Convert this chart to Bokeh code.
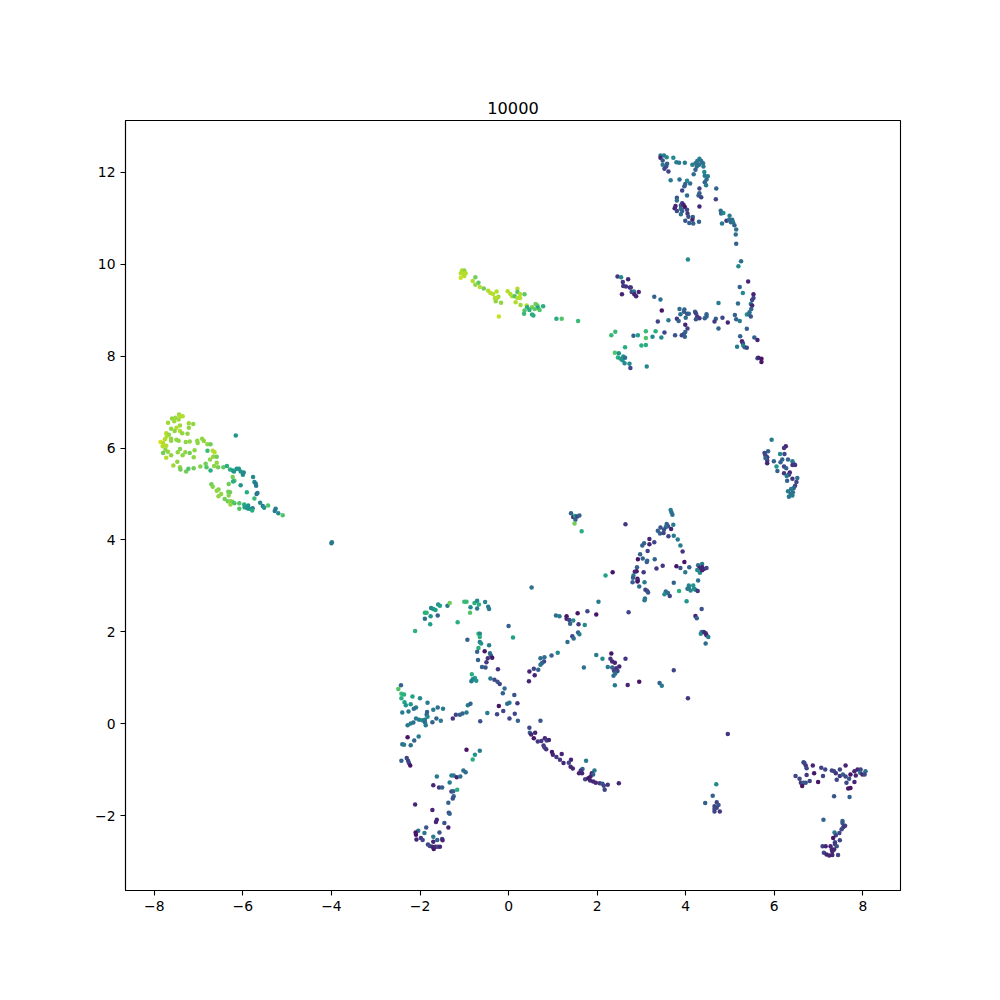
from bokeh.plotting import figure
from bokeh.models import ColumnDataSource, LinearColorMapper, FixedTicker, Range1d
from bokeh.palettes import Viridis256
from bokeh.embed import file_html
from bokeh.resources import INLINE

# (x, y, colour value 0..1)
top_arch = [
(3.43,12.36,.4),(3.51,12.36,.4),(3.43,12.31,.1),(3.57,12.32,.45),(3.72,12.31,.45),(3.48,12.25,.25),(3.58,12.18,.3),(3.48,12.16,.4),
(3.56,12.12,.25),(3.52,12.07,.2),(3.61,12.01,.2),(3.79,12.21,.4),(3.85,12.2,.4),(3.98,12.2,.4),(4.15,12.16,.42),(4.22,12.19,.4),
(4.26,12.24,.38),(4.31,12.29,.42),(4.35,12.24,.35),(4.30,12.16,.35),(4.25,12.12,.35),(4.39,12.19,.35),(4.4,12.12,.4),(4.22,12.05,.3),
(4.18,11.95,.35),(4.42,12.0,.45),(4.43,11.92,.4),(4.5,11.91,.4),(4.47,11.84,.35),(4.43,11.78,.3),(4.46,11.71,.4),(4.69,11.64,.3),
(3.66,11.82,.4),(3.86,11.84,.35),(4.03,11.81,.45),(3.99,11.74,.3),(4.1,11.75,.35),(3.97,11.69,.3),(3.92,11.6,.2),(4.31,11.64,.2),
(4.31,11.54,.3),(4.29,11.49,.3),(4.35,11.45,.2),(4.03,11.49,.35),(3.8,11.44,.25),(3.8,11.38,.35),(4.68,11.41,.2),(3.92,11.32,.15),
(3.89,11.27,.25),(3.95,11.29,.1),(3.77,11.26,.1),(3.75,11.21,.1),(3.98,11.24,.05),(3.89,11.2,.35),(4.31,11.25,.1),(3.8,11.15,.2),
(3.92,11.15,.3),(4.03,11.18,.2),(3.89,11.08,.35),(4.04,11.1,.15),(4.06,11.03,.25),(4.16,11.02,.3),(3.99,10.94,.25),(4.15,10.96,.1),
(4.08,10.89,.3),(4.17,10.88,.3),(4.3,10.92,.3),(4.79,11.16,.35),(4.8,11.1,.3),(4.85,11.11,.45),(4.99,11.05,.4),(4.92,10.94,.15),
(4.98,10.96,.35),(5.05,10.96,.35),(5.07,10.91,.4),(5.02,10.91,.35),(4.82,10.88,.4),(5.1,10.84,.3),(5.14,10.75,.35),(5.13,10.64,.35),
(5.14,10.44,.3),(5.25,10.06,.35),(5.19,9.95,.45),(4.05,10.1,.45),
]
middle_band = [
(2.46,9.73,.15),(2.54,9.71,.45),(2.7,9.67,.1),(2.58,9.61,.15),(2.59,9.52,.15),(2.65,9.51,.15),(2.74,9.49,.1),(2.76,9.49,.15),
(2.78,9.39,.2),(2.83,9.4,.35),(2.94,9.39,.1),(2.56,9.34,.1),(2.84,9.34,.1),(2.88,9.3,.1),(3.29,9.29,.3),(3.43,9.23,.35),
(5.41,9.62,.1),(5.22,9.5,.3),(5.29,9.37,.45),(5.53,9.34,.1),(5.53,9.26,.2),(5.5,9.22,.2),(5.47,9.13,.4),(5.5,9.1,.1),
(5.48,9.02,.3),(5.44,8.95,.35),(5.38,8.9,.5),(5.43,8.91,.35),(5.47,8.86,.25),(4.74,9.15,.4),(5.18,9.14,.35),(3.46,8.99,.05),
(3.86,9.02,.35),(3.97,9.01,.3),(3.96,8.96,.3),(3.88,8.91,.35),(4.03,8.92,.25),(4.07,8.92,.3),(4.21,8.96,.3),(4.23,8.93,.2),
(4.26,8.86,.15),(4.31,8.82,.15),(4.23,8.8,.25),(3.8,8.81,.15),(3.84,8.76,.3),(4.0,8.83,.35),(3.61,8.78,.4),(3.37,8.75,.2),
(4.47,8.91,.3),(4.47,8.86,.3),(4.43,8.82,.3),(4.68,8.81,.3),(4.65,8.75,.15),(4.83,8.83,.2),(4.95,8.73,.1),(5.11,8.89,.3),
(5.14,8.8,.3),(5.22,8.76,.4),(4.74,8.6,.3),(5.38,8.59,.3),(3.99,8.68,.1),(4.04,8.6,.2),(3.99,8.52,.3),(3.96,8.48,.3),
(3.91,8.45,.2),(3.98,8.42,.3),(3.76,8.45,.25),(3.52,8.51,.2),(3.32,8.54,.6),(3.1,8.54,.65),(2.92,8.45,.55),(2.82,8.44,.3),
(2.41,8.53,.65),(2.32,8.45,.65),(3.1,8.39,.7),(3.25,8.42,.45),(3.45,8.4,.45),(3.1,8.24,.6),(3.0,8.23,.6),(2.63,8.19,.6),
(2.4,8.07,.7),(2.49,8.06,.5),(2.47,7.97,.6),(2.53,7.94,.55),(2.57,7.91,.5),(2.59,7.99,.5),(2.63,7.96,.35),(2.62,7.84,.45),
(2.73,7.83,.45),(2.75,7.74,.2),(3.12,7.77,.45),(5.23,8.43,.3),(5.55,8.4,.3),(5.62,8.35,.1),(5.27,8.32,.1),(5.29,8.28,.15),
(5.16,8.2,.4),(5.3,8.23,.45),(5.33,8.19,.35),(5.38,8.18,.2),(5.62,7.95,.35),(5.64,7.96,.1),(5.71,7.94,.05),(5.71,7.87,.05),
]
upper_left_arc = [
(-2.11,2.02,.62),(-1.89,2.29,.35),(-1.89,2.42,.6),(-1.85,2.42,.62),(-1.76,2.34,.5),(-1.77,2.17,.55),(-1.75,2.52,.45),(-1.7,2.5,.5),
(-1.65,2.48,.55),(-1.6,2.36,.3),(-1.59,2.6,.5),(-1.55,2.57,.55),(-1.38,2.57,.4),(-1.33,2.63,.75),(-1.15,2.21,.6),(-1.0,2.66,.65),
(-0.95,2.66,.65),(-0.86,2.54,.45),(-0.87,2.42,.7),(-0.77,2.63,.6),(-0.71,2.68,.45),(-0.67,2.6,.6),(-0.71,2.51,.4),(-0.53,2.65,.45),
(-0.46,2.55,.4),(-0.44,2.5,.4),(0,2.13,.3),(0.1,1.88,.55),(-0.68,1.96,.65),(-0.65,1.96,.45),(-0.65,1.89,.6),(-0.93,1.83,.3),
(-0.65,1.78,.4),(-0.62,1.75,.5),(-0.44,1.71,.4),(-0.68,1.65,.6),(-0.71,1.57,.3),(-0.54,1.58,.05),(-0.42,1.54,.35),(-0.4,1.49,.3),
(-0.47,1.43,.15),(-0.37,1.44,.05),(-0.69,1.39,.3),(-0.5,1.34,.15),(-0.6,1.24,.3),(-0.52,1.23,.25),(-0.24,1.19,.15),(-0.83,1.08,.6),
(-0.76,1.0,.55),(-0.81,0.97,.45),(-0.84,0.93,.4),(-0.73,0.94,.5),(-0.41,0.99,.4),(-0.32,0.96,.2),(-0.25,0.92,.25),(-0.2,0.87,.2),
(-0.09,0.77,.35),(-0.13,0.67,.3),(0.13,0.63,.25),(0.2,0.45,.15),(0.02,0.46,.4),(-0.03,0.44,.35),(-0.22,0.39,.05),(-0.12,0.28,.2),
(-0.26,0.21,.2),(0.14,0.22,.2),(0.02,0.12,.2),(0.21,0.07,.3),(-0.48,0.24,.4),(-0.64,0.06,.25),
]
left_fan = [
(-2.43,0.84,.3),(-2.49,0.76,.7),(-2.42,0.66,.65),(-2.36,0.64,.6),(-2.42,0.56,.6),(-2.17,0.6,.55),(-2.0,0.56,.45),(-2.35,0.47,.55),
(-2.32,0.41,.5),(-2.21,0.43,.5),(-1.83,0.46,.4),(-2.09,0.36,.4),(-2.14,0.33,.35),(-2.4,0.25,.4),(-2.26,0.27,.4),(-1.84,0.26,.3),
(-1.85,0.2,.3),(-1.7,0.31,.4),(-1.6,0.36,.35),(-1.48,0.33,.4),(-2.09,0.12,.4),(-2.02,0.09,.4),(-1.95,0.08,.45),(-1.89,0.09,.4),
(-1.83,0.16,.45),(-1.63,0.12,.3),(-1.53,0.07,.4),(-1.72,0.04,.3),(-1.89,0.04,.35),(-1.87,-0.03,.4),(-2.15,0.03,.35),(-2.21,0.01,.4),
(-2.28,-0.03,.4),(-1.26,0.12,.15),(-1.19,0.2,.2),(-1.1,0.2,.3),(-1.04,0.23,.3),(-0.95,0.25,.4),(-0.92,0.41,.4),(-0.86,0.44,.3),
(-2.28,-0.29,.05),(-2.03,-0.27,.4),(-2.13,-0.36,.3),(-2.4,-0.44,.35),(-2.36,-0.45,.4),(-2.21,-0.46,.35),(-2.42,-0.8,.3),(-2.3,-0.74,.2),
(-2.27,-0.8,.2),(-2.25,-0.85,.2),(-2.22,-0.9,.05),
]
bottom_arc = [
(-0.95,-0.56,.05),(-0.65,-0.58,.4),(-0.76,-0.67,.5),(-0.81,-0.77,.6),(-1.62,-1.14,.4),(-1.29,-1.12,.4),(-1.24,-1.12,.4),(-1.17,-1.16,.1),
(-1.09,-1.14,.35),(-1.02,-1.01,.35),(-0.97,-1.05,.35),(-1.7,-1.33,.1),(-1.57,-1.38,.15),(-1.5,-1.38,.3),(-1.33,-1.27,.4),(-1.16,-1.43,.6),
(-1.29,-1.47,.2),(-1.25,-1.46,.3),(-1.24,-1.57,.3),(-1.26,-1.62,.25),(-1.36,-1.71,.3),(-2.11,-1.75,.1),(-1.72,-1.87,.1),(-1.35,-1.93,.2),
(-1.33,-1.95,.3),(-1.62,-2.08,.1),(-1.64,-2.13,.1),(-1.45,-2.15,.25),(-1.36,-2.25,.1),(-1.86,-2.25,.25),(-2.04,-2.32,.35),(-2.1,-2.36,.05),
(-2.09,-2.41,.05),(-1.9,-2.37,.4),(-1.56,-2.36,.25),(-1.7,-2.45,.4),(-2.08,-2.51,.1),(-1.98,-2.48,.15),(-1.94,-2.52,.2),(-1.61,-2.52,.3),
(-1.5,-2.5,.2),(-1.49,-2.53,.1),(-1.7,-2.56,.1),(-1.82,-2.62,.2),(-1.78,-2.65,.25),(-1.72,-2.67,.1),(-1.69,-2.72,.05),(-1.65,-2.67,.1),
(-1.6,-2.67,.2),(-1.55,-2.67,.1),
]
descending_arc = [
(0.47,-0.08,.2),(0.72,0.07,.25),(0.48,-0.19,.3),(0.51,-0.23,.1),(0.6,-0.19,.1),(0.57,-0.31,.05),(0.66,-0.38,.15),(0.74,-0.37,.15),
(0.82,-0.31,.1),(0.86,-0.36,.2),(0.91,-0.35,.1),(0.79,-0.47,.15),(0.81,-0.51,.2),(0.85,-0.55,.15),(0.98,-0.61,.05),(1.0,-0.67,.1),
(1.08,-0.72,.15),(1.2,-0.65,.1),(1.16,-0.78,.15),(1.24,-0.85,.1),(1.41,-0.78,.1),(1.36,-0.84,.2),(1.75,-0.8,.4),(1.4,-0.93,.1),
(1.45,-0.97,.1),(1.67,-0.98,.3),(1.63,-1.01,.15),(1.59,-1.07,.1),(1.66,-1.07,.1),(1.94,-1.01,.4),(1.88,-1.07,.1),(1.91,-1.1,.3),
(1.85,-1.14,.1),(1.73,-1.2,.2),(1.8,-1.18,.05),(1.84,-1.23,.1),(1.91,-1.25,.1),(1.97,-1.28,.1),(2.06,-1.29,.15),(2.12,-1.3,.25),
(2.15,-1.34,.2),(2.24,-1.32,.15),(2.17,-1.43,.2),(2.49,-1.29,.1),
]
rising_branch = [
(2.03,2.66,.4),(2.71,2.43,.2),(1.07,2.36,.35),(1.15,2.34,.4),(1.31,2.34,.05),(1.31,2.29,.1),(1.37,2.26,.2),(1.46,2.25,.45),
(1.56,2.41,.05),(1.78,2.45,.2),(1.98,2.38,.05),(1.58,2.17,.15),(1.39,2.18,.3),(1.72,2.15,.45),(1.57,1.99,.3),(1.6,1.95,.4),
(1.44,1.91,.2),(1.47,1.86,.35),(1.33,1.78,.35),(1.11,1.55,.45),(0.97,1.49,.3),(0.81,1.45,.35),(0.72,1.43,.35),(0.8,1.36,.2),
(0.75,1.32,.3),(0.72,1.29,.35),(0.57,1.2,.2),(0.67,1.18,.3),(0.47,1.14,.1),(0.59,1.06,.1),(0.46,0.93,.1),(0.52,2.97,.35),
(1.98,1.5,.4),(2.32,1.53,.05),(2.12,1.42,.45),(2.64,1.42,.15),(2.3,1.42,.15),(2.34,1.36,.1),(2.4,1.33,.1),(2.24,1.24,.4),
(1.7,1.23,.35),(2.34,1.23,.3),(2.5,1.25,.1),(2.43,1.21,.15),(2.38,1.16,.2),(2.46,1.15,.2),(2.41,1.1,.35),(2.37,1.05,.35),
(2.4,0.84,.4),(2.69,0.85,.1),(2.95,0.92,.05),(3.41,0.89,.3),(3.46,0.83,.4),(3.73,1.17,.2),(4.05,0.56,.15),
]
central_ring = [
(1.41,4.58,.3),(1.46,4.5,.1),(1.5,4.52,.55),(1.55,4.51,.2),(1.6,4.53,.3),(1.51,4.44,.3),(1.49,4.36,.75),(1.65,4.19,.6),
(2.64,4.34,.15),(3.66,4.65,.4),(3.68,4.6,.35),(3.7,4.55,.35),(3.57,4.35,.3),(3.6,4.3,.25),(3.72,4.33,.4),(3.55,4.28,.35),
(3.67,4.24,.1),(3.43,4.27,.25),(3.51,4.23,.25),(3.37,4.2,.3),(3.42,4.14,.3),(3.5,4.15,.2),(3.61,4.08,.2),(3.73,4.09,.4),
(3.82,4.01,.4),(3.88,3.88,.4),(3.93,3.75,.15),(3.18,4.02,.1),(3.18,3.91,.1),(3.29,3.95,.2),(3.06,3.93,.3),(3.02,3.88,.3),
(3.14,3.76,.2),(2.97,3.69,.3),(3.03,3.6,.3),(2.92,3.58,.05),(3.13,3.55,.3),(3.12,3.52,.3),(3.3,3.58,.3),(3.48,3.44,.15),
(3.34,3.38,.15),(3.79,3.43,.05),(3.97,3.52,.05),(3.88,3.39,.25),(4.08,3.41,.3),(3.99,3.3,.4),(2.9,3.41,.3),(2.89,3.32,.05),
(2.85,3.31,.1),(3.05,3.3,.15),(2.82,3.23,.4),(2.81,3.18,.3),(2.91,3.16,.05),(2.92,3.12,.2),(2.8,3.08,.3),(2.91,3.1,.05),
(3.07,3.08,.4),(2.95,2.99,.35),(3.09,2.92,.2),(3.13,2.89,.2),(3.15,2.86,.25),(3.08,2.73,.4),(3.07,2.69,.4),(2.35,3.3,.05),
(2.19,3.23,.55),(4.28,3.45,.35),(4.37,3.48,.4),(4.31,3.39,.1),(4.37,3.41,.1),(4.41,3.37,.1),(4.47,3.39,.2),(4.26,3.35,.45),
(4.32,3.29,.45),(4.37,3.34,.1),(4.28,3.12,.35),(3.73,3.07,.3),(4.07,3.01,.45),(4.17,3.01,.5),(4.04,2.94,.35),(4.11,2.9,.45),
(4.19,2.94,.45),(4.22,2.92,.45),(4.27,2.89,.15),(4.07,2.96,.4),(3.85,2.89,.6),(3.55,2.88,.35),(3.6,2.85,.35),(3.52,2.82,.45),
(3.64,2.78,.2),(4.02,2.67,.5),(4.36,2.5,.25),(4.22,2.35,.1),(4.25,2.3,.3),(4.36,2.0,.4),(4.34,1.96,.45),(4.41,2.0,.15),
(4.45,1.97,.1),(4.47,1.93,.1),(4.51,1.89,.4),(4.45,1.75,.35),
]
small_lower = [
(4.95,-0.22,.15),(4.69,-1.31,.45),(4.61,-1.56,.3),(4.44,-1.72,.3),(4.7,-1.7,.2),(4.74,-1.76,.25),(4.65,-1.79,.2),(4.65,-1.85,.2),
(4.7,-1.82,.2),(4.77,-1.9,.15),(4.65,-1.9,.2),(-4.0,3.93,.35),(-3.99,3.95,.4),
]
lower_right = [
(6.66,-0.83,.25),(6.68,-0.85,.2),(6.71,-0.9,.15),(6.73,-0.96,.2),(6.87,-0.9,.1),(7.06,-0.95,.2),(7.15,-0.99,.2),(6.9,-1.07,.05),
(6.73,-1.11,.15),(6.48,-1.13,.2),(7.1,-1.13,.2),(6.57,-1.19,.2),(6.6,-1.28,.15),(6.66,-1.28,.3),(6.71,-1.28,.25),(6.8,-1.24,.2),
(6.63,-1.35,.05),(6.99,-1.26,.05),(7.3,-1.01,.2),(7.35,-1.03,.2),(7.39,-1.07,.15),(7.48,-0.99,.2),(7.61,-0.9,.1),(7.48,-1.13,.15),
(7.55,-1.1,.3),(7.61,-1.14,.2),(7.41,-1.21,.2),(7.69,-1.19,.25),(7.63,-1.28,.2),(7.81,-1.26,.1),(7.72,-1.1,.05),(7.81,-1.03,.1),
(7.88,-0.99,.1),(7.95,-0.99,.2),(7.94,-1.06,.35),(7.84,-1.12,.1),(7.99,-1.1,.1),(8.06,-1.03,.35),(8.04,-1.1,.2),(7.72,-1.39,.05),
(7.67,-1.4,.05),(7.35,-1.57,.25),(7.7,-1.59,.3),(7.11,-2.08,.3),(7.54,-2.11,.3),(7.54,-2.15,.25),(7.6,-2.21,.2),(7.56,-2.24,.15),
(7.52,-2.29,.2),(7.47,-2.37,.2),(7.36,-2.36,.4),(7.39,-2.42,.2),(7.33,-2.48,.05),(7.48,-2.53,.2),(7.37,-2.57,.2),(7.37,-2.61,.15),
(7.09,-2.66,.2),(7.16,-2.66,.1),(7.27,-2.66,.1),(7.41,-2.66,.25),(7.3,-2.73,.1),(7.35,-2.73,.1),(7.31,-2.77,.1),(7.12,-2.8,.2),
(7.18,-2.84,.1),(7.24,-2.86,.1),(7.31,-2.85,.1),(7.44,-2.85,.2),
]
left_cloud = [
(-7.44,6.73,.82),(-7.41,6.69,.85),(-7.6,6.64,.8),(-7.52,6.66,.82),(-7.36,6.69,.85),(-7.45,6.62,.82),(-7.55,6.58,.82),(-7.69,6.55,.82),
(-7.22,6.54,.82),(-7.12,6.52,.8),(-7.42,6.49,.82),(-7.5,6.44,.85),(-7.62,6.42,.8),(-7.22,6.44,.8),(-7.54,6.37,.8),(-7.42,6.37,.85),
(-7.73,6.32,.85),(-7.37,6.32,.8),(-7.25,6.31,.8),(-7.67,6.29,.8),(-7.72,6.25,.85),(-7.62,6.2,.8),(-7.76,6.19,.85),(-7.5,6.18,.8),
(-7.45,6.16,.8),(-7.29,6.13,.8),(-7.2,6.14,.8),(-7.86,6.13,.9),(-7.8,6.11,.85),(-7.62,6.16,.8),(-7.03,6.16,.8),(-6.92,6.2,.8),
(-6.88,6.15,.8),(-7.02,6.11,.8),(-6.8,6.08,.8),(-6.73,6.08,.75),(-7.81,6.04,.85),(-7.73,6.05,.85),(-7.75,5.96,.8),(-7.69,5.92,.8),
(-7.8,5.89,.75),(-7.42,5.98,.78),(-7.47,5.91,.8),(-7.3,5.91,.8),(-7.2,5.89,.75),(-7.09,5.95,.8),(-6.8,5.94,.65),(-6.68,5.94,.85),
(-6.64,5.91,.85),(-7.36,5.84,.8),(-7.62,5.84,.8),(-7.73,5.79,.85),(-7.11,5.8,.8),(-6.67,5.81,.8),(-6.59,5.81,.75),(-6.74,5.75,.8),
(-7.48,5.7,.8),(-7.57,5.62,.82),(-7.42,5.58,.8),(-7.41,5.53,.75),(-7.28,5.49,.75),(-7.23,5.55,.7),(-7.11,5.56,.75),(-6.96,5.6,.78),
(-6.84,5.66,.75),(-6.82,5.58,.7),(-6.59,5.68,.8),(-6.65,5.61,.8),(-6.56,5.58,.75),(-6.73,5.51,.6),(-6.44,5.58,.72),(-6.36,5.61,.6),
(-6.29,5.53,.6),(-6.23,5.51,.55),(-6.14,5.55,.5),(-6.09,5.55,.5),(-6.2,5.49,.5),(-6.05,5.49,.5),(-5.98,5.47,.45),(-6.0,5.42,.45),
(-6.16,6.27,.5),(-6.23,5.37,.75),(-6.19,5.29,.7),(-6.32,5.22,.75),(-6.22,5.27,.6),(-6.05,5.19,.5),(-5.77,5.37,.45),(-5.74,5.26,.45),
(-5.71,5.23,.4),(-5.7,5.18,.4),(-5.91,5.04,.6),(-5.69,5.0,.35),(-5.67,5.02,.4),(-5.74,4.9,.65),(-6.71,5.21,.75),(-6.68,5.16,.78),
(-6.55,5.1,.78),(-6.59,5.07,.8),(-6.49,5.0,.8),(-6.33,5.05,.75),(-6.29,5.04,.75),(-6.32,4.97,.78),(-6.55,4.95,.8),(-6.41,4.89,.75),
(-6.34,4.84,.75),(-6.28,4.84,.8),(-6.24,4.83,.75),(-6.28,4.77,.8),(-6.19,4.8,.7),(-6.08,4.8,.7),(-5.97,4.77,.6),(-5.88,4.75,.5),
(-6.08,4.68,.7),(-5.96,4.71,.55),(-5.9,4.69,.5),(-5.86,4.68,.5),(-5.78,4.69,.4),(-5.79,4.64,.6),(-5.61,4.81,.45),(-5.55,4.74,.4),
(-5.52,4.7,.5),(-5.43,4.75,.7),(-5.26,4.68,.4),(-5.28,4.63,.4),(-5.2,4.58,.45),(-5.1,4.54,.7),
]
top_green = [
(-1.05,9.86,.85),(-1.0,9.86,.8),(-1.08,9.8,.85),(-1.02,9.79,.85),(-0.97,9.8,.85),(-1.0,9.74,.85),(-1.08,9.7,.88),(-0.75,9.71,.75),
(-0.81,9.63,.85),(-0.68,9.59,.72),(-0.75,9.55,.8),(-0.65,9.5,.85),(-0.56,9.47,.75),(-0.46,9.42,.85),(-0.41,9.37,.85),(-0.35,9.35,.85),
(-0.27,9.4,.85),(-0.31,9.26,.85),(-0.23,9.29,.82),(-0.29,9.19,.8),(-0.26,9.26,.85),(-0.17,9.16,.8),(-0.22,8.86,.88),(-0.02,9.41,.85),
(0.04,9.35,.85),(0.08,9.3,.85),(0.2,9.46,.85),(0.2,9.39,.7),(0.14,9.3,.7),(0.26,9.35,.85),(0.36,9.34,.72),(0.2,9.26,.85),
(0.26,9.26,.85),(0.16,9.17,.85),(0.27,9.11,.82),(0.41,9.1,.85),(0.42,9.06,.6),(0.53,9.06,.75),(0.61,9.13,.75),(0.65,9.1,.72),
(0.66,9.05,.55),(0.59,9.02,.72),(0.7,9.0,.7),(0.78,9.08,.6),(0.47,9.0,.6),(0.36,8.99,.7),(0.35,8.92,.65),(0.53,8.9,.6),
(0.56,8.88,.6),(1.08,8.81,.6),(1.2,8.81,.7),(1.57,8.76,.65),
]
right_strand = [
(5.94,6.18,.4),(6.26,6.04,.1),(6.22,6.0,.15),(5.86,5.93,.3),(6.13,5.87,.45),(6.23,5.87,.2),(5.78,5.89,.2),(5.8,5.84,.2),
(5.84,5.8,.15),(5.84,5.73,.2),(5.8,5.78,.3),(5.84,5.67,.1),(6.18,5.75,.3),(6.14,5.69,.3),(5.99,5.71,.3),(6.31,5.75,.3),
(6.41,5.71,.4),(6.44,5.65,.35),(6.41,5.63,.15),(6.47,5.63,.15),(6.05,5.6,.5),(6.22,5.6,.2),(6.27,5.56,.3),(6.07,5.5,.3),
(6.35,5.47,.1),(6.22,5.45,.15),(6.33,5.42,.2),(6.28,5.39,.4),(6.52,5.35,.35),(6.41,5.33,.15),(6.29,5.29,.3),(6.5,5.26,.2),
(6.47,5.18,.2),(6.44,5.13,.3),(6.38,5.11,.4),(6.31,5.06,.4),(6.42,5.04,.35),(6.37,5.0,.35),(6.33,4.94,.4),(6.41,4.97,.4),
]
x_ticks = [-8, -6, -4, -2, 0, 2, 4, 6, 8]
y_ticks = [-2, 0, 2, 4, 6, 8, 10, 12]
title_text = "10000"

clusters = [top_arch, middle_band, upper_left_arc, left_fan, bottom_arc, descending_arc, rising_branch,
            central_ring, small_lower, lower_right, left_cloud, top_green, right_strand]
pts = [pt for cl in clusters for pt in cl]
src = ColumnDataSource(dict(x=[q[0] for q in pts], y=[q[1] for q in pts], v=[q[2] for q in pts]))

p = figure(frame_width=775, frame_height=770, output_backend="svg", toolbar_location=None,
           x_range=Range1d(-8.65, 8.85), y_range=Range1d(-3.62, 13.12),
           min_border_left=125, min_border_right=92, min_border_top=120, min_border_bottom=102,
           title=title_text)
mapper = LinearColorMapper(palette=Viridis256, low=0, high=0.96)
p.scatter("x", "y", source=src, size=4.5, line_width=0,
          fill_color={"field": "v", "transform": mapper}, line_color=None)

p.title.align = "center"
p.title.text_font = "DejaVu Sans"
p.title.text_font_size = "16.2px"
p.title.text_font_style = "normal"
p.title.text_color = "black"
p.title.standoff = 14
p.xgrid.visible = False
p.ygrid.visible = False
p.outline_line_color = "black"
p.outline_line_width = 1.1
p.xaxis.ticker = FixedTicker(ticks=x_ticks)
p.yaxis.ticker = FixedTicker(ticks=y_ticks)
for ax in (p.xaxis[0], p.yaxis[0]):
    ax.axis_line_color = "black"
    ax.axis_line_width = 1.1
    ax.major_tick_line_color = "black"
    ax.major_tick_line_width = 1.1
    ax.major_tick_in = 0
    ax.major_tick_out = 5
    ax.minor_tick_line_color = None
    ax.major_label_text_font = "DejaVu Sans"
    ax.major_label_text_font_size = "13.9px"
    ax.major_label_text_color = "black"
    ax.major_label_standoff = 5
p.yaxis[0].major_label_orientation = "horizontal"

open("out.html", "w").write(file_html(p, INLINE))
